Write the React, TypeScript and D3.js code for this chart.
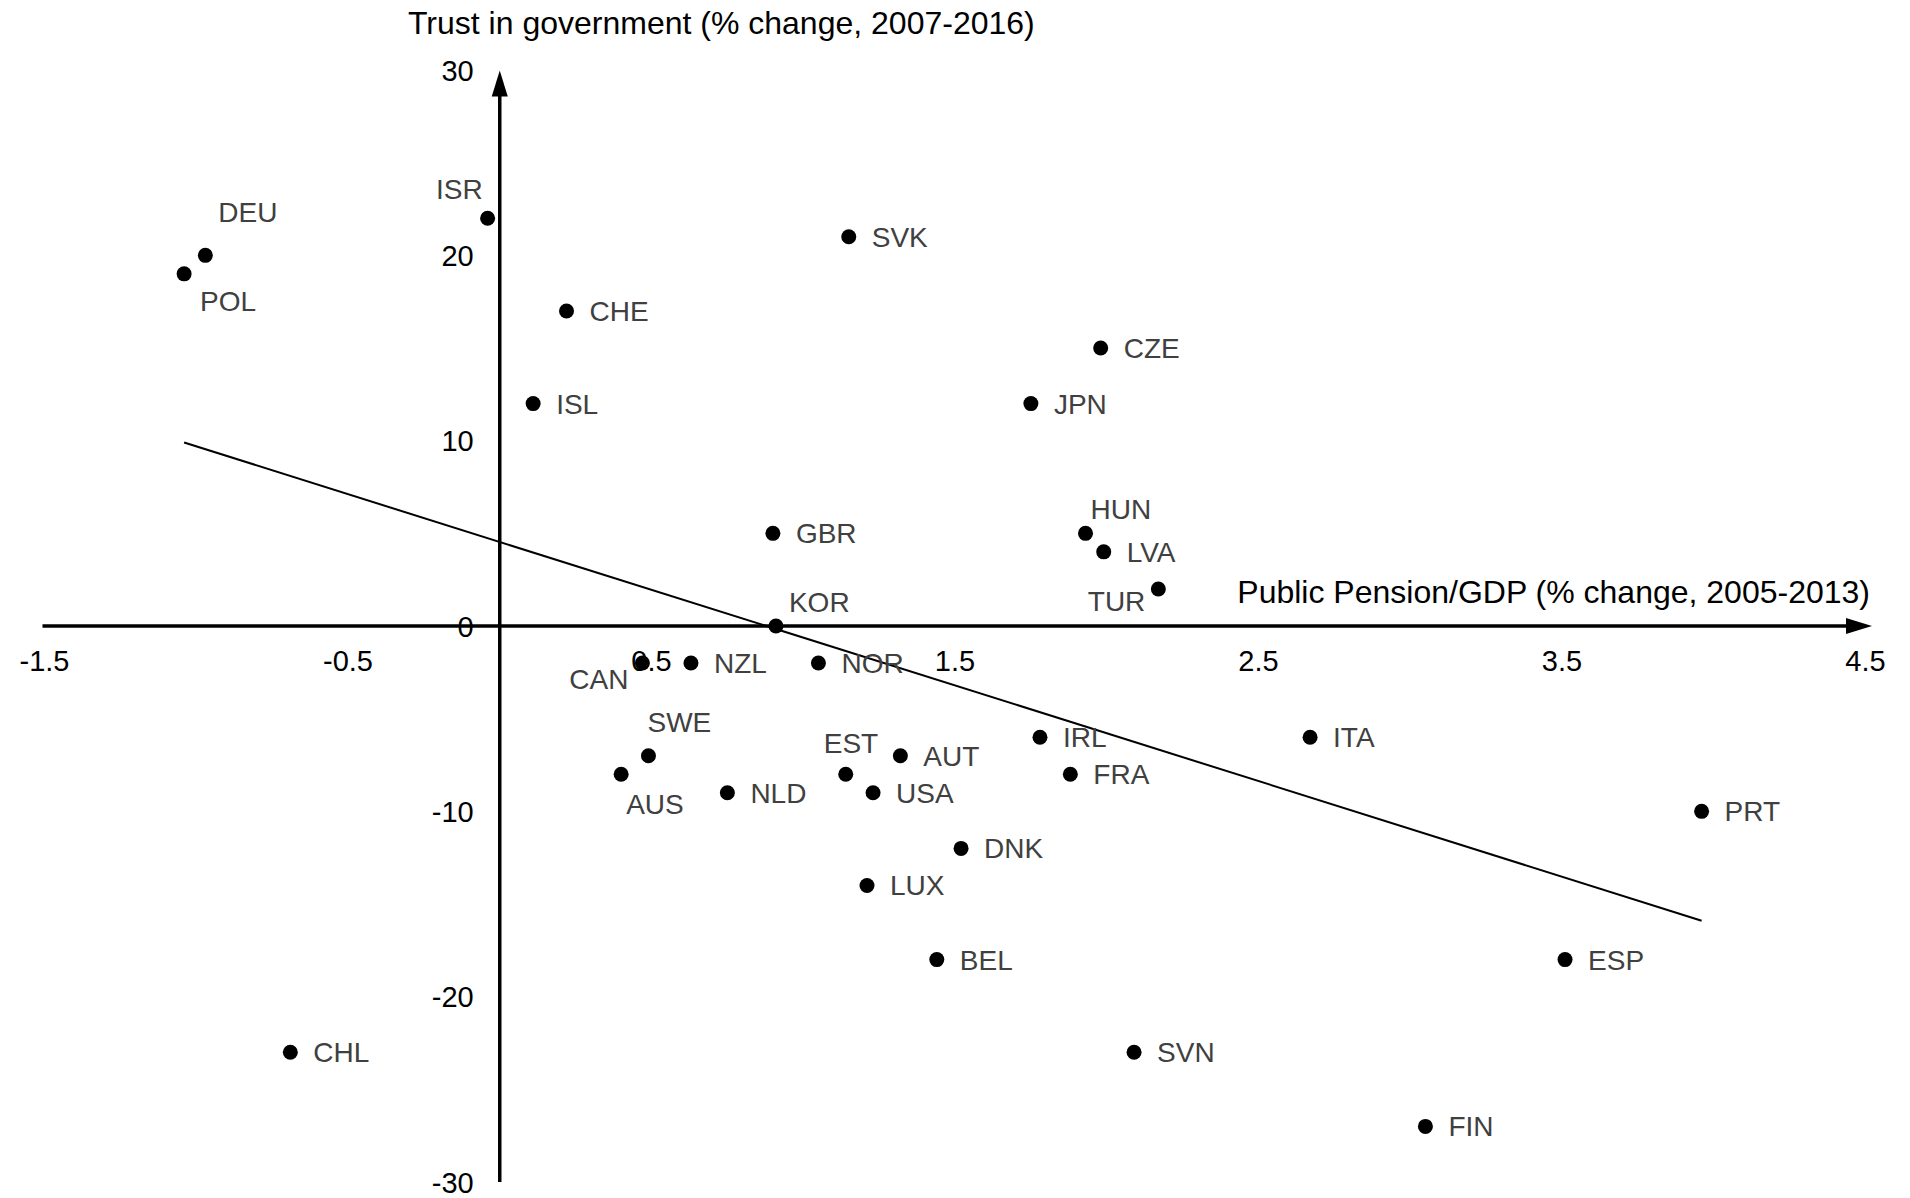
import React from "react";
import * as d3 from "d3";

// Country codes, with pension change (x) and trust change (y)
const countries = [
  "DEU", "POL", "ISR", "CHE", "ISL", "SVK", "CZE", "JPN", "GBR", "HUN",
  "LVA", "TUR", "KOR", "CAN", "NZL", "NOR", "SWE", "AUS", "NLD", "EST",
  "AUT", "USA", "IRL", "FRA", "ITA", "PRT", "DNK", "LUX", "BEL", "ESP",
  "SVN", "CHL", "FIN",
];
const pensionChange = [
  -0.97, -1.04, -0.04, 0.22, 0.11, 1.15, 1.98, 1.75, 0.9, 1.93,
  1.99, 2.17, 0.91, 0.47, 0.63, 1.05, 0.49, 0.4, 0.75, 1.14,
  1.32, 1.23, 1.78, 1.88, 2.67, 3.96, 1.52, 1.21, 1.44, 3.51,
  2.09, -0.69, 3.05,
];
const trustChange = [
  20, 19, 22, 17, 12, 21, 15, 12, 5, 5,
  4, 2, 0, -2, -2, -2, -7, -8, -9, -8,
  -7, -9, -6, -8, -6, -10, -12, -14, -18, -18,
  -23, -23, -27,
];

// Label placement per country; anything not listed sits right of its dot
const labelPos: Record<string, string> = {
  DEU: "aboveRight",
  POL: "belowRight",
  ISR: "aboveLeft",
  KOR: "aboveRight2",
  HUN: "aboveRight3",
  TUR: "belowLeft",
  CAN: "belowLeft2",
  SWE: "above",
  AUS: "below",
  EST: "aboveLeft2",
};

// Trend line end points (x, y)
const trendX = [-1.04, 3.96];
const trendY = [9.9, -15.9];

const xTicks = [-1.5, -0.5, 0.5, 1.5, 2.5, 3.5, 4.5];
const yTicks = [30, 20, 10, 0, -10, -20, -30];

const xTitle = "Public Pension/GDP (% change, 2005-2013)";
const yTitle = "Trust in government (% change, 2007-2016)";

const W = 1910;
const H = 1198;
const FONT = "'Liberation Sans', Arial, Helvetica, sans-serif";

export default function App() {
  const x = d3.scaleLinear().domain([-1.5, 4.5]).range([44.5, 1865.5]);
  const y = d3.scaleLinear().domain([-30, 30]).range([1182, 70]);

  const x0 = x(0);
  const y0 = y(0);

  const line = d3
    .line<[number, number]>()
    .x((d) => x(d[0]))
    .y((d) => y(d[1]));
  const trendPts: [number, number][] = trendX.map((v, i) => [v, trendY[i]]);

  const labelAttrs = (code: string, cx: number, cy: number) => {
    switch (labelPos[code]) {
      case "aboveRight":
        return { x: cx + 13, y: cy - 33, anchor: "start" };
      case "belowRight":
        return { x: cx + 16, y: cy + 37, anchor: "start" };
      case "aboveLeft":
        return { x: cx - 5, y: cy - 19, anchor: "end" };
      case "aboveRight2":
        return { x: cx + 13, y: cy - 14, anchor: "start" };
      case "aboveRight3":
        return { x: cx + 5, y: cy - 14, anchor: "start" };
      case "belowLeft":
        return { x: cx - 13, y: cy + 22, anchor: "end" };
      case "belowLeft2":
        return { x: cx - 14, y: cy + 26, anchor: "end" };
      case "above":
        return { x: cx - 1, y: cy - 24, anchor: "start" };
      case "below":
        return { x: cx + 5, y: cy + 40, anchor: "start" };
      case "aboveLeft2":
        return { x: cx - 22, y: cy - 21, anchor: "start" };
      default:
        return { x: cx + 23, y: cy + 10, anchor: "start" };
    }
  };

  const xArrowTip = 1872;
  const yArrowTip = y(30) + 0.5;

  return (
    <svg
      width={W}
      height={H}
      style={{ position: "absolute", left: 0, top: 0, background: "#fff" }}
      fontFamily={FONT}
    >
      <rect x={0} y={0} width={W} height={H} fill="#fff" />

      {/* trend line */}
      <path d={line(trendPts) || ""} fill="none" stroke="#000" strokeWidth={2} />

      {/* axes with arrow heads */}
      <line x1={x(-1.5) - 2} x2={xArrowTip - 20} y1={y0} y2={y0} stroke="#000" strokeWidth={3.5} />
      <path
        d={`M${xArrowTip},${y0} L${xArrowTip - 26},${y0 - 8} L${xArrowTip - 26},${y0 + 8} Z`}
        fill="#000"
      />
      <line x1={x0} x2={x0} y1={y(-30)} y2={yArrowTip + 20} stroke="#000" strokeWidth={3.5} />
      <path
        d={`M${x0},${yArrowTip} L${x0 - 8},${yArrowTip + 26} L${x0 + 8},${yArrowTip + 26} Z`}
        fill="#000"
      />

      {/* tick labels */}
      {xTicks.map((t) => (
        <text key={"x" + t} x={x(t)} y={y0 + 45} textAnchor="middle" fontSize={29} fill="#000">
          {t}
        </text>
      ))}
      {yTicks.map((t) => (
        <text key={"y" + t} x={x0 - 26} y={y(t) + 10.5} textAnchor="end" fontSize={29} fill="#000">
          {t}
        </text>
      ))}

      {/* axis titles */}
      <text x={408} y={34} fontSize={32} fill="#000">
        {yTitle}
      </text>
      <text x={1870} y={603} textAnchor="end" fontSize={32} fill="#000">
        {xTitle}
      </text>

      {/* points and labels */}
      {countries.map((c, i) => {
        const cx = x(pensionChange[i]);
        const cy = y(trustChange[i]);
        const l = labelAttrs(c, cx, cy);
        return (
          <g key={c}>
            <circle cx={cx} cy={cy} r={7.5} fill="#000" />
            <text x={l.x} y={l.y} textAnchor={l.anchor} fontSize={28} fill="#404040">
              {c}
            </text>
          </g>
        );
      })}
    </svg>
  );
}
